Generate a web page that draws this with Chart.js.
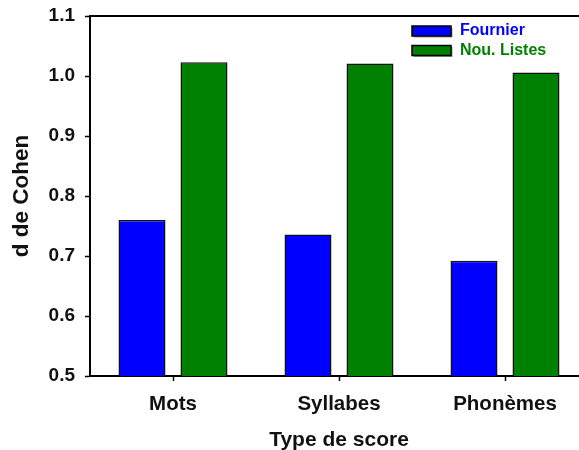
<!DOCTYPE html>
<html>
<head>
<meta charset="utf-8">
<script src="https://cdn.jsdelivr.net/npm/chart.js@4/dist/chart.umd.min.js"></script>
<style>
  html, body { margin: 0; padding: 0; background: #fff; overflow: hidden; }
  #wrap { width: 600px; height: 450px; }
</style>
</head>
<body>
<div id="wrap"><canvas id="c" width="600" height="450"></canvas></div>
<script>
// Effect sizes (Cohen's d) by score type for the two word lists
const categories = ['Mots', 'Syllabes', 'Phonèmes'];
const fournier = [0.760, 0.736, 0.692];
const nouListes = [1.023, 1.021, 1.006];
const seriesNames = ['Fournier', 'Nou. Listes'];
const yTicks = [0.5, 0.6, 0.7, 0.8, 0.9, 1.0, 1.1];

const FONT = "'Liberation Sans', Arial, sans-serif";
const BLUE = '#0000ff';
const GREEN = '#008000';

// Top frame line and the boxed legend in the upper right corner
const framePlugin = {
  id: 'frame',
  afterDraw(chart) {
    const { ctx, chartArea } = chart;
    ctx.save();
    ctx.strokeStyle = '#000';
    ctx.lineWidth = 2;
    ctx.beginPath();
    ctx.moveTo(chartArea.left - 1, chartArea.top);
    ctx.lineTo(chart.width, chartArea.top);
    ctx.stroke();

    const items = chart.data.datasets;
    const boxX = 412, boxW = 39, boxH = 10, rowH = 19.5, firstY = 26;
    ctx.font = 'bold 16px ' + FONT;
    ctx.textBaseline = 'middle';
    ctx.textAlign = 'left';
    items.forEach((ds, i) => {
      const y = firstY + i * rowH;
      ctx.fillStyle = '#9a9a9a';
      ctx.fillRect(boxX + 1.5, y + 1.5, boxW, boxH);
      ctx.fillStyle = ds.backgroundColor;
      ctx.fillRect(boxX, y, boxW, boxH);
      ctx.lineWidth = 1.5;
      ctx.strokeStyle = '#000';
      ctx.strokeRect(boxX, y, boxW, boxH);
      ctx.fillStyle = ds.backgroundColor;
      ctx.fillText(ds.label, 460, y + boxH / 2);
    });
    ctx.restore();
  }
};

new Chart(document.getElementById('c'), {
  type: 'bar',
  data: {
    labels: categories,
    datasets: [
      { label: seriesNames[0], data: fournier, backgroundColor: BLUE,
        borderColor: '#111', borderWidth: 1.5 },
      { label: seriesNames[1], data: nouListes, backgroundColor: GREEN,
        borderColor: '#111', borderWidth: 1.5 }
    ]
  },
  options: {
    responsive: false,
    animation: false,
    devicePixelRatio: 1,
    layout: { padding: { left: 0, top: 16, right: 12, bottom: 0 } },
    datasets: { bar: { categoryPercentage: 0.747, barPercentage: 0.758 } },
    plugins: { legend: { display: false }, tooltip: { enabled: false } },
    scales: {
      x: {
        offset: true,
        grid: { offset: false, drawOnChartArea: false, drawTicks: true,
                tickLength: 5, tickWidth: 1.5, tickColor: '#000' },
        border: { display: true, color: '#000', width: 2 },
        ticks: { color: '#111', font: { family: FONT, size: 20.5, weight: 'bold' },
                 padding: 11, maxRotation: 0 },
        title: { display: true, text: 'Type de score', color: '#111',
                 font: { family: FONT, size: 21, weight: 'bold' },
                 padding: { top: 0, bottom: -3 } },
        afterFit(scale) {
          scale.height = 74;
          scale.paddingLeft = 0;
          scale.paddingRight = 0;
        }
      },
      y: {
        min: 0.5, max: 1.1,
        afterBuildTicks(scale) { scale.ticks = yTicks.map(v => ({ value: v })); },
        grid: { drawOnChartArea: false, drawTicks: true, tickLength: 5,
                tickWidth: 1.5, tickColor: '#000' },
        border: { display: true, color: '#000', width: 2 },
        ticks: { color: '#111', font: { family: FONT, size: 19, weight: 'bold' },
                 padding: 10, callback: v => Number(v).toFixed(1) },
        title: { display: true, text: 'd de Cohen', color: '#111',
                 font: { family: FONT, size: 22.5, weight: 'bold' },
                 padding: { top: 8, bottom: 0 } },
        afterFit(scale) {
          scale.width = 90;
          scale.paddingTop = 0;
          scale.paddingBottom = 0;
        }
      }
    }
  },
  plugins: [framePlugin]
});
</script>
</body>
</html>
